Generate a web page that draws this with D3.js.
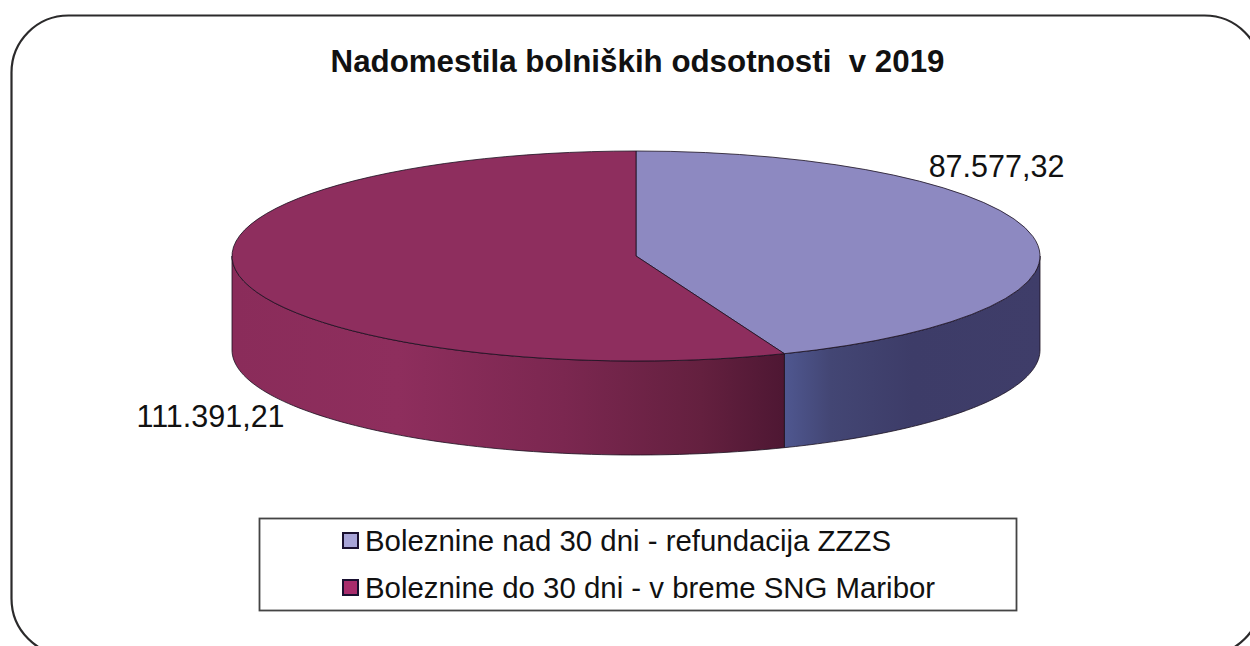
<!DOCTYPE html>
<html><head><meta charset="utf-8">
<script src="https://cdn.jsdelivr.net/npm/d3@7"></script>
<style>html,body{margin:0;padding:0;background:#fff;overflow:hidden}svg{display:block}text{font-family:"Liberation Sans",Arial,sans-serif;fill:#111}</style>
</head><body>
<svg id="c" width="1250" height="646"></svg>
<script>
const titleText = "Nadomestila bolniških odsotnosti  v 2019";
const categories = ["Boleznine nad 30 dni - refundacija ZZZS", "Boleznine do 30 dni - v breme SNG Maribor"];
const values = [87577.32, 111391.21];
const valueLabels = ["87.577,32", "111.391,21"];
const topColors = ["#8d89c1", "#8e2e5e"];
const legendColors = ["#a8a4d8", "#a82c6c"];
const wallStops = [
  [[0,"#4f5790"],[0.18,"#434674"],[0.5,"#3d3c68"],[1,"#3f3d69"]],
  [[0,"#8a2c5a"],[0.3,"#8e2e5d"],[0.6,"#7b2750"],[0.85,"#64203f"],[1,"#4e1733"]]
];

const svg = d3.select("#c");
const cx = 636, cy = 256, rx = 404, ry = 105, depth = 94;

svg.append("rect").attr("x",11.5).attr("y",15.5).attr("width",1250).attr("height",640).attr("rx",57).attr("ry",57)
  .attr("fill","#fff").attr("stroke","#2b2a2b").attr("stroke-width",2.2);

svg.append("text").attr("x",637.5).attr("y",72).attr("text-anchor","middle")
  .style("font-size","31.3px").style("font-weight","700").style("white-space","pre").text(titleText);

const pie = d3.pie().sort(null).value(d=>d)(values);
const arc = d3.arc().innerRadius(0).outerRadius(rx);
const px = a => cx + rx*Math.sin(a), py = a => cy - ry*Math.cos(a);

const defs = svg.append("defs");
const walls = pie.map((s,i)=>{
  const a0 = Math.max(s.startAngle, Math.PI/2), a1 = Math.min(s.endAngle, 3*Math.PI/2);
  const xs = [px(a0), px(a1)], x0 = d3.min(xs), x1 = d3.max(xs);
  const g = defs.append("linearGradient").attr("id","w"+i).attr("gradientUnits","userSpaceOnUse")
    .attr("x1", x0).attr("x2", x1).attr("y1",0).attr("y2",0);
  wallStops[i].forEach(st=>g.append("stop").attr("offset",st[0]).attr("stop-color",st[1]));
  const p = d3.path();
  p.moveTo(px(a0),py(a0));
  p.lineTo(px(a0),py(a0)+depth);
  const n = 80;
  d3.range(1,n+1).forEach(k=>{const a=a0+(a1-a0)*k/n;p.lineTo(px(a),py(a)+depth);});
  p.lineTo(px(a1),py(a1));
  d3.range(n-1,-1,-1).forEach(k=>{const a=a0+(a1-a0)*k/n;p.lineTo(px(a),py(a));});
  p.closePath();
  return {d:p.toString(), i};
});
svg.append("g").selectAll("path").data(walls).join("path")
  .attr("d",d=>d.d).attr("fill",d=>`url(#w${d.i})`).attr("stroke","#1a1020").attr("stroke-width",0.8);

svg.append("g").attr("transform",`translate(${cx},${cy}) scale(1,${ry/rx})`)
  .selectAll("path").data(pie).join("path")
  .attr("d",arc).attr("fill",(d,i)=>topColors[i]).attr("stroke","#1a1020").attr("stroke-width",0.8)
  .attr("vector-effect","non-scaling-stroke");

svg.append("g").selectAll("text").data(valueLabels).join("text")
  .attr("x",(d,i)=>[996.5,210.5][i]).attr("y",(d,i)=>[177,427][i]).attr("text-anchor","middle")
  .style("font-size","30.5px").text(d=>d);

const lx = 259.5, ly = 518.5, lw = 757, lh = 92;
svg.append("rect").attr("x",lx).attr("y",ly).attr("width",lw).attr("height",lh)
  .attr("fill","#fff").attr("stroke","#444").attr("stroke-width",1.8);
const leg = svg.append("g").selectAll("g").data(categories).join("g")
  .attr("transform",(d,i)=>`translate(343,${[542,589][i]})`);
leg.append("rect").attr("x",0).attr("y",-9).attr("width",15).attr("height",15)
  .attr("fill",(d,i)=>legendColors[i]).attr("stroke","#1a1030").attr("stroke-width",2);
leg.append("text").attr("x",22).attr("y",9).style("font-size","29.4px").text(d=>d);
</script>
</body></html>
